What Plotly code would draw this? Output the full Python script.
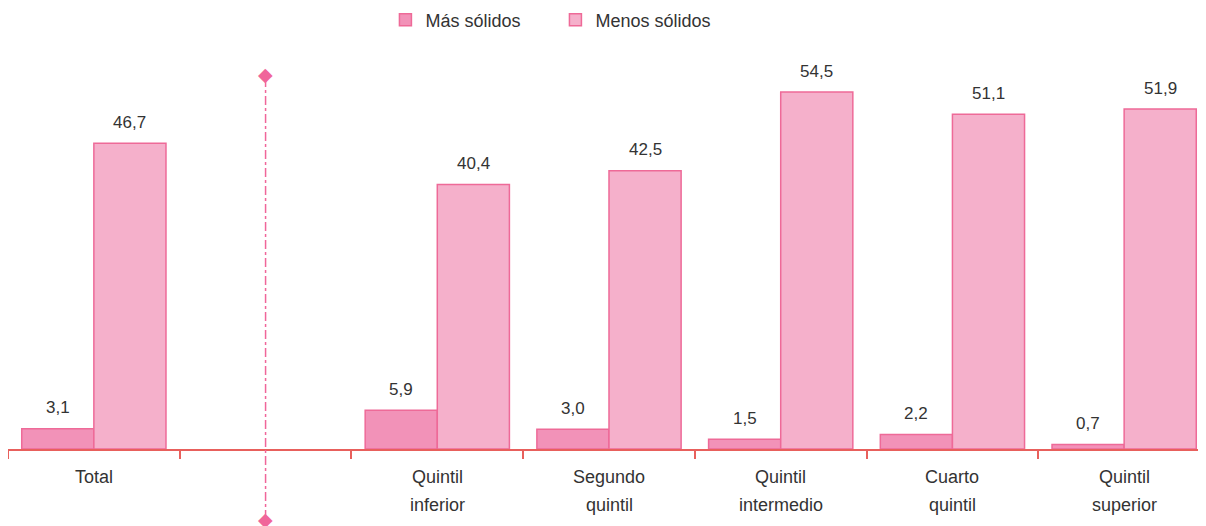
import plotly.graph_objects as go

categories = ["Total", " ", "Quintil inferior", "Segundo quintil", "Quintil intermedio", "Cuarto quintil", "Quintil superior"]
mas_solidos = [3.1, None, 5.9, 3.0, 1.5, 2.2, 0.7]
menos_solidos = [46.7, None, 40.4, 42.5, 54.5, 51.1, 51.9]

def fmt(v):
    return "" if v is None else f"{v:.1f}".replace(".", ",")

font_family = "Liberation Sans, Arial, sans-serif"
border = "#EE6A98"
pink_line = "#F0669A"
axis_red = "#E8605C"

YMAX = 59.4
PLOT_H = 389  # px of plot area (for pixel offsets)

fig = go.Figure()
fig.add_trace(go.Bar(
    name="Más sólidos", x=categories, y=mas_solidos,
    marker=dict(color="#F292B8", line=dict(color=border, width=1.5)),
    hoverinfo="skip",
))
fig.add_trace(go.Bar(
    name="Menos sólidos", x=categories, y=menos_solidos,
    marker=dict(color="#F5B0CB", line=dict(color=border, width=1.5)),
    hoverinfo="skip",
))

annotations = []
# value labels
for cat, a, b in zip(categories, mas_solidos, menos_solidos):
    for v, xs in ((a, -36), (b, 36)):
        if v is None:
            continue
        annotations.append(dict(x=cat, y=v, xref="x", yref="y", text=fmt(v), showarrow=False,
                                xshift=xs, yshift=21, yanchor="middle",
                                font=dict(size=17, color="#333333")))
# category labels (two lines, wide spacing)
for cat in categories:
    lines = cat.strip().split(" ") if cat.strip() else []
    for i, line in enumerate(lines):
        annotations.append(dict(x=cat, y=0, xref="x", yref="y", text=line, showarrow=False,
                                yshift=-28 - 28 * i, yanchor="middle",
                                font=dict(size=18, color="#333333")))

# divider in the blank category (page y 74..519, baseline at 449)
div_top = (449 - 74) / PLOT_H
div_bot = (449 - 519) / PLOT_H
fig.add_shape(type="line", xref="x", yref="paper", x0=1, x1=1, y0=div_bot, y1=div_top,
              line=dict(color=pink_line, width=1.5, dash="dashdot"), layer="above")
for yy in (div_top, div_bot):
    annotations.append(dict(x=" ", y=yy, xref="x", yref="paper", text="◆", showarrow=False,
                            xanchor="center", yanchor="middle",
                            font=dict(family="DejaVu Sans", size=19, color=pink_line)))

fig.update_layout(
    width=1206, height=526,
    margin=dict(l=0, r=4, t=52, b=85, autoexpand=False),
    paper_bgcolor="white", plot_bgcolor="white",
    barmode="group", bargap=0.16, bargroupgap=0,
    font=dict(family=font_family, size=17, color="#333333"),
    legend=dict(orientation="h", x=0.314, xanchor="left", y=(449 - 20) / PLOT_H, yref="paper",
                yanchor="middle", font=dict(size=18), traceorder="normal",
                entrywidth=125, entrywidthmode="pixels", itemwidth=30),
    showlegend=True,
    annotations=annotations,
    xaxis=dict(
        type="category", categoryorder="array", categoryarray=categories,
        range=[-0.5, 6.5], automargin=False,
        showline=True, linecolor=axis_red, linewidth=2,
        ticks="outside", tickson="boundaries", ticklen=8, tickcolor=axis_red, tickwidth=1.5,
        showgrid=False, showticklabels=False,
    ),
    yaxis=dict(range=[0, YMAX], visible=False, showgrid=False, zeroline=False, automargin=False),
)

fig.write_html("out.html")
